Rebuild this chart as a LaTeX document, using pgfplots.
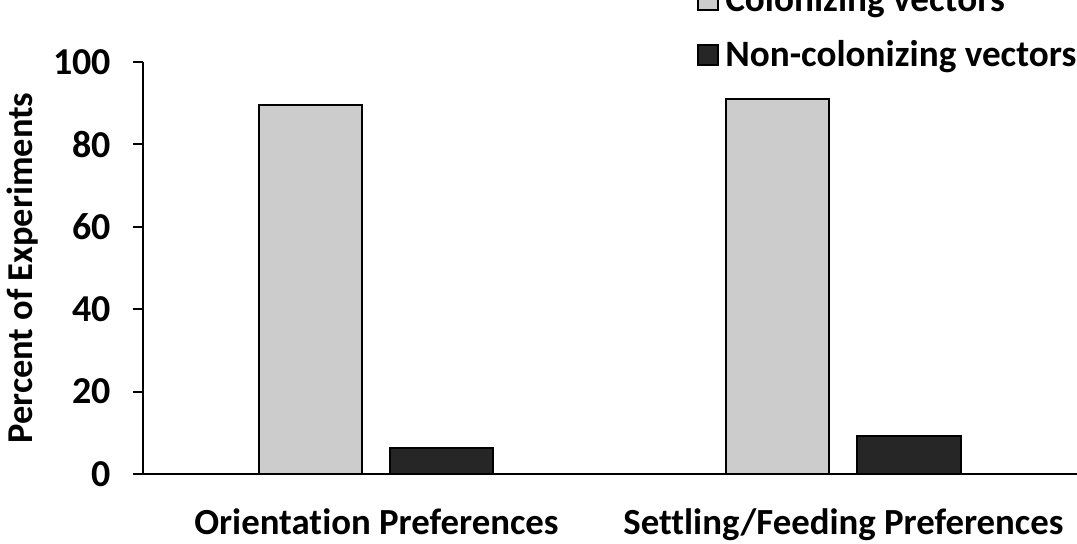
\documentclass[border=0pt]{standalone}
\usepackage{pgfplots}
\pgfplotsset{compat=1.18}
\usepackage{fontspec}
\setmainfont{Carlito}[Ligatures=NoCommon]
\definecolor{lightbar}{RGB}{204,204,204}
\definecolor{darkbar}{RGB}{38,38,38}
\begin{document}
\begin{tikzpicture}
\begin{axis}[
  at={(0,0)}, anchor=south west,
  scale only axis, width=467pt, height=206pt,
  xmin=-0.5, xmax=1.5, ymin=0, ymax=100,
  ybar=14pt, bar width=51.5pt,
  axis x line=bottom, axis y line=left,
  axis line style={-, line width=1pt, black},
  xtick={0,1},
  xticklabels={Orientation Preferences, Settling/Feeding Preferences},
  x tick style={draw=none},
  ytick={0,20,40,60,80,100},
  tick align=outside, major tick length=5pt,
  y tick style={line width=1pt, black},
  /pgf/number format/assume math mode=true,
  yticklabel style={font=\fontsize{19}{22}\selectfont\bfseries, anchor=east, xshift=-7.5pt},
  xticklabel style={font=\fontsize{18.4}{22}\selectfont\bfseries, anchor=base, yshift=-25pt},
  ylabel={Percent of Experiments},
  every axis y label/.style={at={(axis description cs:-0.1285,0.5)}, rotate=90, anchor=center, font=\fontsize{18.2}{22}\selectfont\bfseries},
  legend style={draw=none, fill=none, at={(axis description cs:0.593,0.9706)}, anchor=south west, inner sep=0pt,
    font=\fontsize{18.6}{22}\selectfont\bfseries, cells={anchor=west}, row sep=9pt,
    /tikz/every odd column/.style={column sep=1pt}},
  legend image code/.code={\draw[#1, line width=1pt] (0pt,-5pt) rectangle (10pt,5pt);},
  legend cell align=left,
]
\addplot[draw=black, line width=1pt, fill=lightbar] coordinates {(0,89.6) (1,91.0)};
\addplot[draw=black, line width=1pt, fill=darkbar] coordinates {(0,6.4) (1,9.2)};
\legend{Colonizing vectors, Non-colonizing vectors}
\end{axis}
\pgfresetboundingbox
\path[use as bounding box] (-71.5pt,-34.5pt) rectangle (467pt,237pt);
\end{tikzpicture}
\end{document}
